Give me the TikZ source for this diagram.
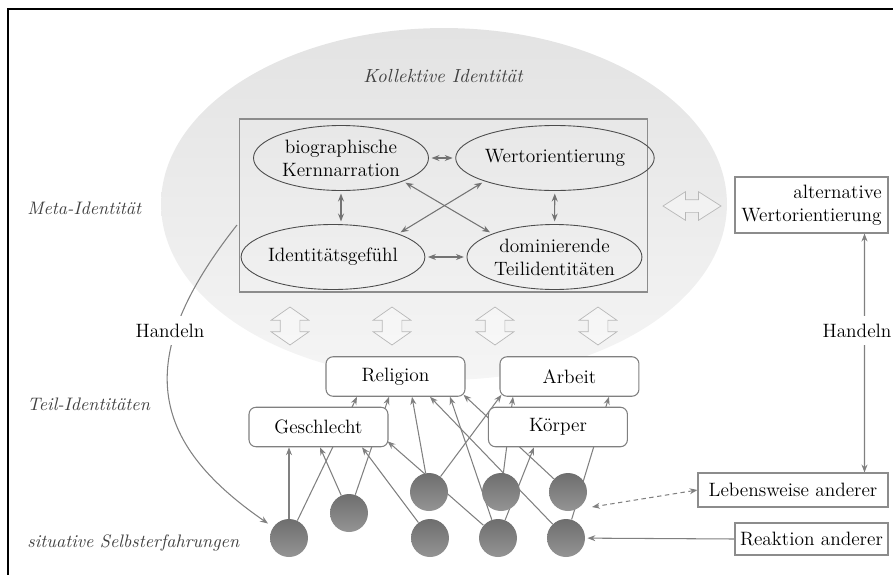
\documentclass[tikz,border=0pt]{standalone}
\usetikzlibrary{shapes.geometric,shapes.arrows,arrows.meta,positioning}
\pgfdeclarelayer{hintergrund}
\pgfdeclarelayer{linien}
\pgfsetlayers{hintergrund,linien,main}

\begin{document}
\begin{tikzpicture}[x=0.02cm, y=-0.02cm, node distance=2cm,
		>={Stealth[length=4.5pt,width=3.4pt]},
		every node/.style={font=\fontsize{11}{13}\selectfont}]
		% Stile
		\tikzstyle{feld} = [ellipse, draw=black!70, line width=0.5pt,
			minimum width=3.5cm, minimum height=1.3cm, align=center, inner sep=0pt]
		\tikzstyle{teil} = [rectangle, draw=black!50, line width=0.6pt, fill=white,
			rounded corners=4pt, minimum width=2.78cm, minimum height=0.79cm]
		\tikzstyle{kugel} = [circle, top color=black!57, bottom color=black!42,
			minimum size=0.76cm, inner sep=0pt]
		\tikzstyle{umwelt} = [rectangle, draw=black!45, line width=0.6pt, fill=white, inner sep=0pt]
		\tikzstyle{ebene} = [anchor=base west, text=black!75, inner xsep=0pt,
			font=\fontsize{10.3}{12}\selectfont\itshape]
		\tikzstyle{vblock} = [double arrow, rotate=90, draw=black!28, fill=white, fill opacity=0.35,
			minimum height=0.76cm, minimum width=0.74cm, inner xsep=0pt, inner ysep=0.19cm,
			double arrow head extend=0.18cm, double arrow tip angle=110]
		\tikzstyle{hblock} = [double arrow, draw=black!28, fill=white, fill opacity=0.35,
			minimum height=1.16cm, minimum width=0.56cm, inner xsep=0pt, inner ysep=0.12cm,
			double arrow head extend=0.16cm, double arrow tip angle=65]
		\tikzstyle{linie} = [draw=black!50, line width=0.6pt, ->]
		\tikzstyle{wechsel} = [draw=black!55, line width=0.6pt, <->,
			shorten <=1.5pt, shorten >=1.5pt]
		\tikzstyle{marke} = [anchor=base, fill=white, inner xsep=2pt, inner ysep=4.5pt]

		\useasboundingbox (0,0) rectangle (893,575);
		\draw [line width=1.5pt] (8,575) -- (8,9) -- (893,9);

		% Hintergrund
		\begin{pgfonlayer}{hintergrund}
			\node [ellipse, minimum width=11.32cm, minimum height=7.04cm,
				top color=black!11, bottom color=black!4] (kollektiv) at (444,204) {};
		\end{pgfonlayer}

		% Meta-Identitaet
		\node [draw=black!45, line width=0.6pt, minimum width=8.18cm, minimum height=3.46cm] (meta) at (443.5,205.5) {};
		\node [feld] (bio) at (341,158) {biographische\\Kernnarration};
		\node [feld, right of=bio, node distance=4.28cm] (wert) {Wertorientierung};
		\node [feld] (gefuehl) at (333,257) {Identitätsgefühl};
		\node [feld, right of=gefuehl, node distance=4.43cm] (teilid) {dominierende\\Teilidentitäten};

		% Teil-Identitaeten
		\node [teil] (religion) at (395.5,376.5) {Religion};
		\node [teil, right of=religion, node distance=3.48cm] (arbeit) {Arbeit};
		\node [teil] (geschlecht) at (318.5,427) {Geschlecht};
		\node [teil, right of=geschlecht, node distance=4.79cm] (koerper) {Körper};

		% Selbsterfahrungen
		\node [kugel] (e1) at (289,538) {};
		\node [kugel] (e2) at (349,513) {};
		\node [kugel] (e3) at (429,492) {};
		\node [kugel] (e4) at (430,538) {};
		\node [kugel] (e5) at (501,492) {};
		\node [kugel] (e6) at (498,538) {};
		\node [kugel] (e7) at (568,492) {};
		\node [kugel] (e8) at (566,538) {};

		% Umwelt
		\node [umwelt, align=right, minimum width=3.06cm, minimum height=1.12cm] (alt) at (811.5,205) {alternative\\Wertorientierung};
		\node [umwelt, minimum width=3.8cm, minimum height=0.68cm] (lebensweise) at (793,490) {Lebensweise anderer};
		\node [umwelt, minimum width=3.06cm, minimum height=0.64cm] (reaktion) at (811.5,539) {Reaktion anderer};

		% Doppelpfeile
		\foreach \x in {290,392,495,598}
			\node [vblock] (dp\x) at (\x,326) {};
		\node [hblock] (dph) at (692,206) {};

		% Beschriftungen
		\node [anchor=base, text=black!75, font=\fontsize{10.8}{12}\selectfont\itshape] (kollektivtext) at (443,82) {Kollektive Identität};
		\node [ebene] (metatext) at (27,214) {Meta-Identität};
		\node [ebene] (teiltext) at (27,410) {Teil-Identitäten};
		\node [ebene] (situativtext) at (27,547) {situative Selbsterfahrungen};
		\node [marke] (handelnL) at (170,337) {Handeln};
		\node [marke] (handelnR) at (857,337) {Handeln};
		\coordinate (hstart) at (237,225);

		% Verbindungen in der Meta-Identitaet
		\path [wechsel] (bio) -- (wert);
		\path [wechsel] (gefuehl) -- (teilid);
		\path [wechsel] (bio.south) -- (bio.south |- gefuehl.north);
		\path [wechsel] (wert) -- (teilid);
		\path [wechsel] (bio.south east) -- (teilid.north west);
		\path [wechsel] (wert.south west) -- (gefuehl.north east);

		% Verbindungen nach oben
		\begin{pgfonlayer}{linien}
			\path [linie] (e1) -- (geschlecht.south -| e1);
			\path [linie] (e1) -- ([shift={(-38.5,0)}]religion.south);
			\path [linie] (e2) -- ([shift={(1.5,0)}]geschlecht.south);
			\path [linie] (e2) -- ([shift={(-6.5,0)}]religion.south);
			\path [linie] (e3) -- ([shift={(16.5,0)}]religion.south);
			\path [linie] (e3) -- ([shift={(2,-2)}]arbeit.south west);
			\path [linie] (e4) -- ([shift={(43.5,0)}]geschlecht.south);
			\path [linie] (e5) -- ([shift={(-56.5,0)}]arbeit.south);
			\path [linie] (e6) -- ([shift={(54.5,0)}]religion.south);
			\path [linie] (e6) -- ([shift={(-1,-6)}]geschlecht.south east);
			\path [linie] (e6) -- ([shift={(-24,0)}]koerper.south);
			\path [linie] (e7) -- ([shift={(-2,-2)}]religion.south east);
			\path [linie] (e8) -- ([shift={(34.5,0)}]religion.south);
			\path [linie] (e8) -- ([shift={(39.5,0)}]arbeit.south);

			% Handeln und Umwelt
			\path [linie, shorten >=3.5pt] (hstart) .. controls (132,358) and (149,441.5) .. (e1);
			\path [linie, <->] ([shift={(-24,0)}]alt.south east) -- ([shift={(-24,0)}]lebensweise.north east);
			\path [linie, <->, dash pattern=on 2.5pt off 2pt] (lebensweise.west) -- ([shift={(24,15)}]e7.center);
			\path [linie, shorten >=1.2pt] (reaktion.west) -- (e8);
		\end{pgfonlayer}
	\end{tikzpicture}
\end{document}
